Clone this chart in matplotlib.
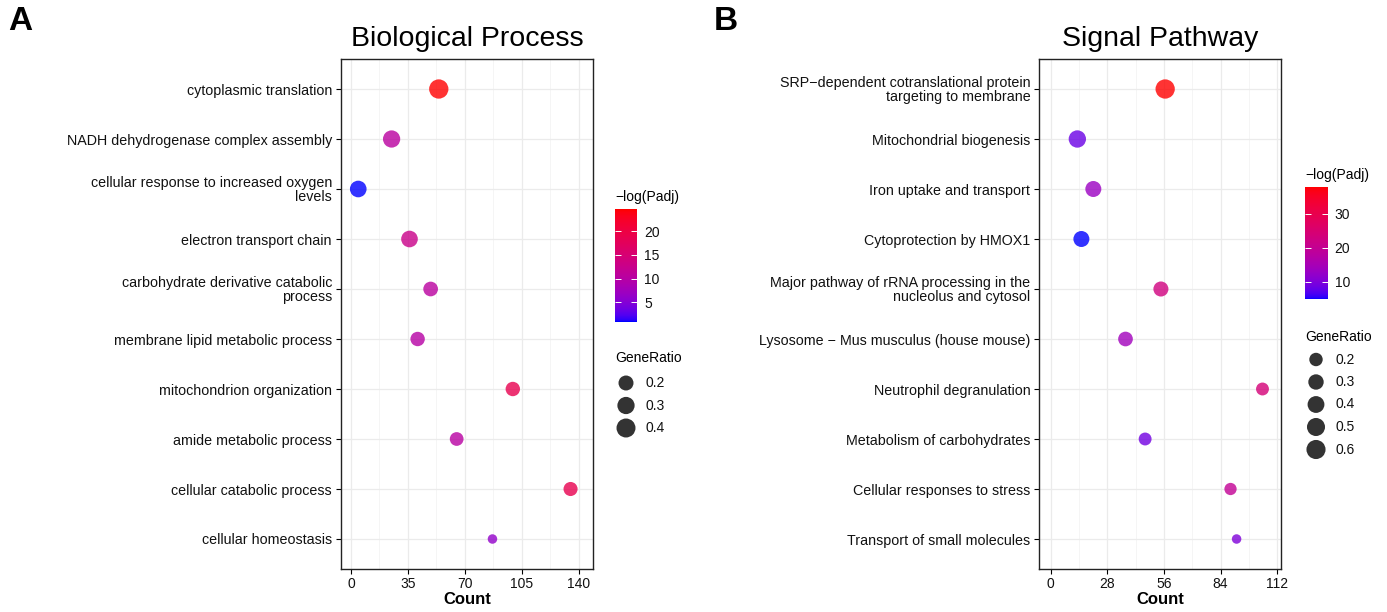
import numpy as np
import matplotlib
matplotlib.use("Agg")
import matplotlib.pyplot as plt
from matplotlib.colors import ListedColormap, Normalize
from matplotlib.cm import ScalarMappable

plt.rcParams['font.family'] = ['Liberation Sans', 'DejaVu Sans']

MINUS = "\u2212"

# ---- panel A: biological process ----
bp_terms = ["cytoplasmic translation",
            "NADH dehydrogenase complex assembly",
            "cellular response to increased oxygen\nlevels",
            "electron transport chain",
            "carbohydrate derivative catabolic\nprocess",
            "membrane lipid metabolic process",
            "mitochondrion organization",
            "amide metabolic process",
            "cellular catabolic process",
            "cellular homeostasis"]
bp_count = [54, 25, 4.5, 36, 49, 41, 99.5, 65, 135, 87]
bp_logp = [24.6, 10.4, 0.9, 12.7, 10.4, 9.9, 18.7, 10.2, 18.7, 6.1]
bp_ratio = [0.42, 0.30, 0.27, 0.27, 0.19, 0.18, 0.18, 0.16, 0.17, 0.10]
bp_xticks = [0, 35, 70, 105, 140]
bp_cticks = [5, 10, 15, 20]
bp_rticks = [0.2, 0.3, 0.4]

# ---- panel B: signal pathway ----
sp_terms = ["SRP" + MINUS + "dependent cotranslational protein\ntargeting to membrane",
            "Mitochondrial biogenesis",
            "Iron uptake and transport",
            "Cytoprotection by HMOX1",
            "Major pathway of rRNA processing in the\nnucleolus and cytosol",
            "Lysosome " + MINUS + " Mus musculus (house mouse)",
            "Neutrophil degranulation",
            "Metabolism of carbohydrates",
            "Cellular responses to stress",
            "Transport of small molecules"]
sp_count = [56.6, 13.2, 21.1, 15.2, 54.5, 37.0, 104.7, 46.7, 88.9, 91.9]
sp_logp = [38.0, 8.5, 13.2, 4.9, 23.0, 14.2, 24.0, 9.0, 19.8, 10.2]
sp_ratio = [0.62, 0.44, 0.34, 0.34, 0.28, 0.26, 0.18, 0.18, 0.16, 0.12]
sp_xticks = [0, 28, 56, 84, 112]
sp_cticks = [10, 20, 30]
sp_rticks = [0.2, 0.3, 0.4, 0.5, 0.6]


# blue -> red gradient interpolated in Lab, like ggplot's scale_colour_gradient
def to_lab(rgb):
    rgb = np.asarray(rgb, float)
    lin = np.where(rgb <= 0.04045, rgb / 12.92, ((rgb + 0.055) / 1.055) ** 2.4)
    m = np.array([[0.4124, 0.3576, 0.1805],
                  [0.2126, 0.7152, 0.0722],
                  [0.0193, 0.1192, 0.9505]])
    xyz = m @ lin / np.array([0.95047, 1.0, 1.08883])
    d = 6 / 29
    f = np.where(xyz > d ** 3, np.cbrt(xyz), xyz / (3 * d * d) + 4 / 29)
    return np.array([116 * f[1] - 16, 500 * (f[0] - f[1]), 200 * (f[1] - f[2])])


def from_lab(lab):
    L, a, b = lab
    fy = (L + 16) / 116
    fx = fy + a / 500
    fz = fy - b / 200
    d = 6 / 29
    f = np.array([fx, fy, fz])
    xyz = np.where(f > d, f ** 3, 3 * d * d * (f - 4 / 29)) * np.array([0.95047, 1.0, 1.08883])
    m = np.array([[3.2406, -1.5372, -0.4986],
                  [-0.9689, 1.8758, 0.0415],
                  [0.0557, -0.2040, 1.0570]])
    lin = m @ xyz
    rgb = np.where(lin <= 0.0031308, 12.92 * lin, 1.055 * np.clip(lin, 0, None) ** (1 / 2.4) - 0.055)
    return np.clip(rgb, 0, 1)


lo_lab = to_lab([0, 0, 1])
hi_lab = to_lab([1, 0, 0])
cmap = ListedColormap([from_lab(lo_lab + t * (hi_lab - lo_lab)) for t in np.linspace(0, 1, 256)])

W, H = 1387, 612
fig = plt.figure(figsize=(W / 100, H / 100), dpi=100)
over = fig.add_axes([0, 0, 1, 1], zorder=5)
over.set_xlim(0, W)
over.set_ylim(H, 0)
over.set_axis_off()
over.patch.set_alpha(0)

PX = 0.72  # points per pixel


def dot_size(r, lo, hi):
    d = 9.5 + 9.8 * np.sqrt((np.asarray(r, float) - lo) / (hi - lo))
    return (d * PX) ** 2


def panel(rect, terms, count, logp, ratio, xticks, xlim, title):
    ax = fig.add_axes(rect)
    y = np.arange(1, len(terms) + 1)
    norm = Normalize(min(logp), max(logp))
    lo, hi = min(ratio), max(ratio)
    ax.scatter(count, y, s=dot_size(ratio, lo, hi), c=logp, cmap=cmap, norm=norm,
               alpha=0.8, edgecolors='none', zorder=3)
    ax.set_xlim(*xlim)
    ax.set_ylim(len(terms) + 0.6, 0.4)
    ax.set_xticks(xticks)
    ax.set_xticks([(a + b) / 2 for a, b in zip(xticks[:-1], xticks[1:])], minor=True)
    ax.set_yticks(y)
    ax.set_yticklabels(terms, fontsize=10.3, linespacing=0.95, color='#111111')
    ax.tick_params(axis='x', labelsize=10, labelcolor='#111111', length=3.5, width=0.8, pad=2)
    ax.tick_params(axis='y', length=3.5, width=0.8, pad=3)
    ax.tick_params(which='minor', length=0)
    ax.grid(which='major', color='#EBEBEB', lw=0.9, zorder=0)
    ax.grid(which='minor', axis='x', color='#F2F2F2', lw=0.5, zorder=0)
    ax.set_axisbelow(True)
    for s in ax.spines.values():
        s.set_linewidth(1.0)
        s.set_color('#222222')
    ax.set_xlabel("Count", fontsize=12, fontweight='bold', labelpad=1)
    x0 = (rect[0] + rect[2] / 2) * W
    over.text(x0, 39, title, fontsize=20.5, ha='center', va='center')
    return norm, lo, hi


def legends(norm, lo, hi, cticks, rticks, cax_rect, ctitle_y, x_left, gr_title_y, gr_y0):
    cax = fig.add_axes(cax_rect)
    cb = fig.colorbar(ScalarMappable(norm=norm, cmap=cmap), cax=cax)
    cb.outline.set_visible(False)
    cb.set_ticks(cticks)
    cax.yaxis.set_ticks_position('both')
    cax.tick_params(direction='in', color='white', length=4.5, width=0.7,
                    labelsize=10, labelcolor='#111111', pad=5, labelleft=False)
    over.text(x_left, ctitle_y, MINUS + "log(Padj)", fontsize=10, ha='left', va='center')
    over.text(x_left, gr_title_y, "GeneRatio", fontsize=10, ha='left', va='center')
    ys = gr_y0 + 22.5 * np.arange(len(rticks))
    over.scatter([x_left + 11] * len(rticks), ys, s=dot_size(rticks, lo, hi),
                 color='black', alpha=0.8, edgecolors='none')
    for yy, r in zip(ys, rticks):
        over.text(x_left + 30, yy, f"{r:.1f}", fontsize=10, ha='left', va='center', color='#111111')


nA, loA, hiA = panel([341 / W, 43 / H, 252 / W, 510 / H], bp_terms, bp_count, bp_logp, bp_ratio,
                     bp_xticks, (-6.1, 148.8), "Biological Process")
legends(nA, loA, hiA, bp_cticks, bp_rticks, [615 / W, (H - 321.7) / H, 22.3 / W, 112.4 / H],
        197, 615, 358, 383)

nB, loB, hiB = panel([1039.3 / W, 43 / H, 241.4 / W, 510 / H], sp_terms, sp_count, sp_logp, sp_ratio,
                     sp_xticks, (-5.6, 113.7), "Signal Pathway")
legends(nB, loB, hiB, sp_cticks, sp_rticks, [1305 / W, (H - 299.3) / H, 22.7 / W, 112.6 / H],
        175, 1305, 337, 359.5)

over.text(8, 22, "A", fontsize=24, fontweight='bold', ha='left', va='center')
over.text(714, 22, "B", fontsize=24, fontweight='bold', ha='left', va='center')

fig.savefig("out.png", dpi=100)
